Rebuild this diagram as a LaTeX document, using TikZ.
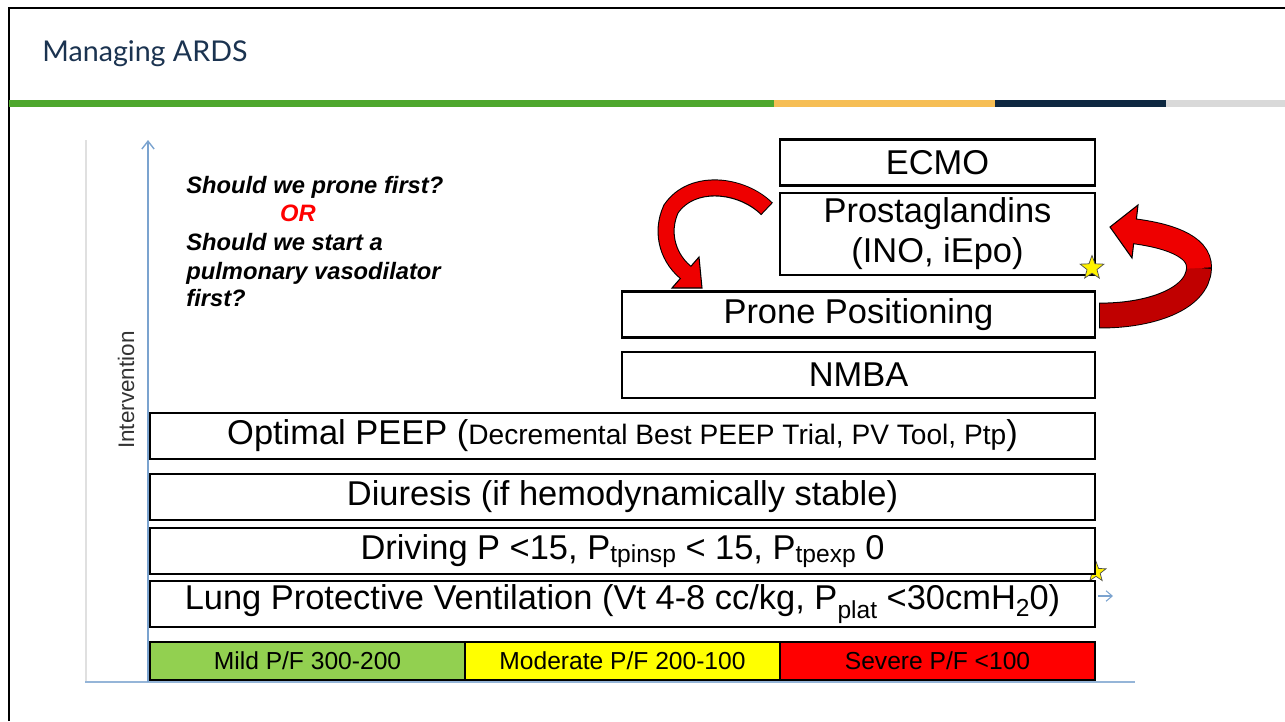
\documentclass[tikz,border=0pt]{standalone}
\usepackage{fontspec}
\setmainfont{Liberation Sans}
\newfontfamily\titlefont{Lato}
\usetikzlibrary{shapes.geometric,arrows.meta}

\definecolor{barGreen}{HTML}{4EA72E}
\definecolor{barOrange}{HTML}{F6BE55}
\definecolor{barNavy}{HTML}{0E2841}
\definecolor{barGray}{HTML}{D9D9D9}
\definecolor{titleBlue}{HTML}{1B3350}
\definecolor{axisBlue}{HTML}{7BA3CF}
\definecolor{mildGreen}{HTML}{92D050}
\definecolor{modYellow}{HTML}{FFFF00}
\definecolor{sevRed}{HTML}{FF0000}
\definecolor{arrowRed}{HTML}{EE0000}
\definecolor{arrowDark}{HTML}{C00000}

\tikzset{
  level/.style={draw,
    line width=1.5pt,
    fill=white,
    minimum height=0.92cm,
    inner sep=0pt,
    align=center,
    font=\fontsize{19.6}{22.7}\selectfont},
  severity/.style={draw,
    line width=1.5pt,
    minimum width=6.3cm,
    minimum height=0.76cm,
    inner sep=0pt,
    font=\fontsize{14}{16}\selectfont},
  question/.style={anchor=base west,
    inner sep=0pt,
    font=\fontsize{13.5}{16}\selectfont\bfseries\itshape},
  ystar/.style={star,
    star points=5,
    star point ratio=2.4,
    fill=yellow,
    draw=black!70,
    line width=0.4pt,
    inner sep=0pt}
}

\begin{document}
\begin{tikzpicture}[x=0.02cm, y=-0.02cm]
\useasboundingbox (0,0) rectangle (1285,721);

% Slide frame and title
\draw[line width=1.1pt] (9,721) -- (9,8) -- (1285,8);
\node[anchor=base west,
    inner sep=0pt,
    text=titleBlue,
    font=\titlefont\fontsize{16.3}{19}\selectfont] (title) at (42,61.5) {Managing ARDS};

% Colour bar under the title
\fill[barGreen] (9,100) rectangle (774,107);
\fill[barOrange] (774,100) rectangle (995,107);
\fill[barNavy] (995,100) rectangle (1166,107);
\fill[barGray] (1166,100) rectangle (1285,107);

% Edges of the chart
\draw[black!12, line width=0.6pt] (86,140) -- (86,682);
\draw[axisBlue!80, line width=0.8pt] (85,682) -- (1135,682);

% Axes
\coordinate (origin) at (148,682);
\coordinate (ytip) at (148,140);
\draw[axisBlue, line width=0.8pt, -{Straight Barb[length=4.5pt, width=7pt]}] (origin) -- (ytip);
\coordinate (xstub) at (1098,596);
\coordinate (xtip) at (1113,596);
\draw[axisBlue, line width=0.6pt, -{Straight Barb[length=3.5pt, width=6pt]}] (xstub) -- (xtip);
\node[rotate=90,
    inner sep=0pt,
    text=black!80,
    font=\fontsize{12.8}{14}\selectfont] (ylabel) at (126,390) {Intervention};

% Star hidden behind the lower boxes
\node[ystar, minimum size=0.42cm] (star2) at (1096,572) {};

% Ladder of interventions
\node[level, minimum width=6.3cm] (ecmo) at (937.5,162.5) {ECMO};
\node[level, minimum width=6.3cm, minimum height=1.64cm] (prost) at (937.5,234) {Prostaglandins\\(INO, iEpo)};
\node[level, minimum width=9.46cm] (prone) at (858.5,314.5) {Prone Positioning};
\node[level, minimum width=9.46cm] (nmba) at (858.5,375) {NMBA};
\node[level, minimum width=18.9cm] (peep) at (622.5,436) {Optimal PEEP ({\fontsize{16}{18}\selectfont Decremental Best PEEP Trial, PV Tool, Ptp})};
\node[level, minimum width=18.9cm] (diuresis) at (622.5,497) {Diuresis (if hemodynamically stable)};
\node[level, minimum width=18.9cm] (driving) at (622.5,551) {Driving P <15, P\raisebox{-2pt}{\fontsize{14}{15}\selectfont tpinsp} < 15, P\raisebox{-2pt}{\fontsize{14}{15}\selectfont tpexp} 0};
\node[level, minimum width=18.9cm] (lung) at (622.5,604) {Lung Protective Ventilation (Vt 4-8 cc/kg, P\raisebox{-5pt}{\fontsize{14}{15}\selectfont plat} <30cmH\raisebox{-4pt}{\fontsize{14}{15}\selectfont 2}0)};

% Severity scale
\node[severity, fill=mildGreen] (mild) at (307.5,661) {Mild P/F 300-200};
\node[severity, fill=modYellow] (moderate) at (622.5,661) {Moderate P/F 200-100};
\node[severity, fill=sevRed] (severe) at (937.5,661) {Severe P/F <100};

% Star on the Prostaglandins box
\node[ystar, minimum size=0.5cm] (star1) at (1092,268) {};

% Question
\node[question] (q1) at (186,193.3) {Should we prone first?};
\node[question, anchor=base, text=red] (qor) at (298,221.7) {OR};
\node[question] (q2) at (186,250) {Should we start a};
\node[question] (q3) at (186,279) {pulmonary vasodilator};
\node[question] (q4) at (186,306.7) {first?};

% Red arrow from Prostaglandins down to Prone Positioning
\coordinate (ltail) at (767,209);
\coordinate (lend) at (689,275);
\coordinate (ltip) at (702,288);
\coordinate (lwing1) at (699,257);
\coordinate (lwing2) at (672,288);
\draw[line width=9.7pt] (ltail) .. controls (742,184) and (692,178) .. (671,209) .. controls (660,233) and (668,260) .. (lend);
\filldraw[fill=arrowRed, line width=0.6pt] (lwing1) -- (ltip) -- (lwing2) -- cycle;
\draw[arrowRed, line width=8.5pt, shorten <=0.6pt] (ltail) .. controls (742,184) and (692,178) .. (671,209) .. controls (660,233) and (668,260) .. (lend);

% Red arrow from Prone Positioning up to Prostaglandins
\coordinate (rtail) at (1099,315.5);
\coordinate (rturn) at (1199,268);
\coordinate (rend) at (1132,231);
\coordinate (rtip) at (1110,227);
\coordinate (rwing1) at (1138,205);
\coordinate (rwing2) at (1132,258);
\draw[line width=14.7pt] (rtail) .. controls (1148,316) and (1198,300) .. (rturn) .. controls (1200,245) and (1165,235) .. (rend);
\filldraw[fill=arrowRed, line width=0.6pt] (rwing1) -- (rtip) -- (rwing2) -- cycle;
\draw[arrowDark, line width=13.6pt, shorten <=0.6pt] (rtail) .. controls (1148,316) and (1198,300) .. (rturn);
\draw[arrowRed, line width=13.6pt] (rturn) .. controls (1200,245) and (1165,235) .. (rend);

\end{tikzpicture}
\end{document}
